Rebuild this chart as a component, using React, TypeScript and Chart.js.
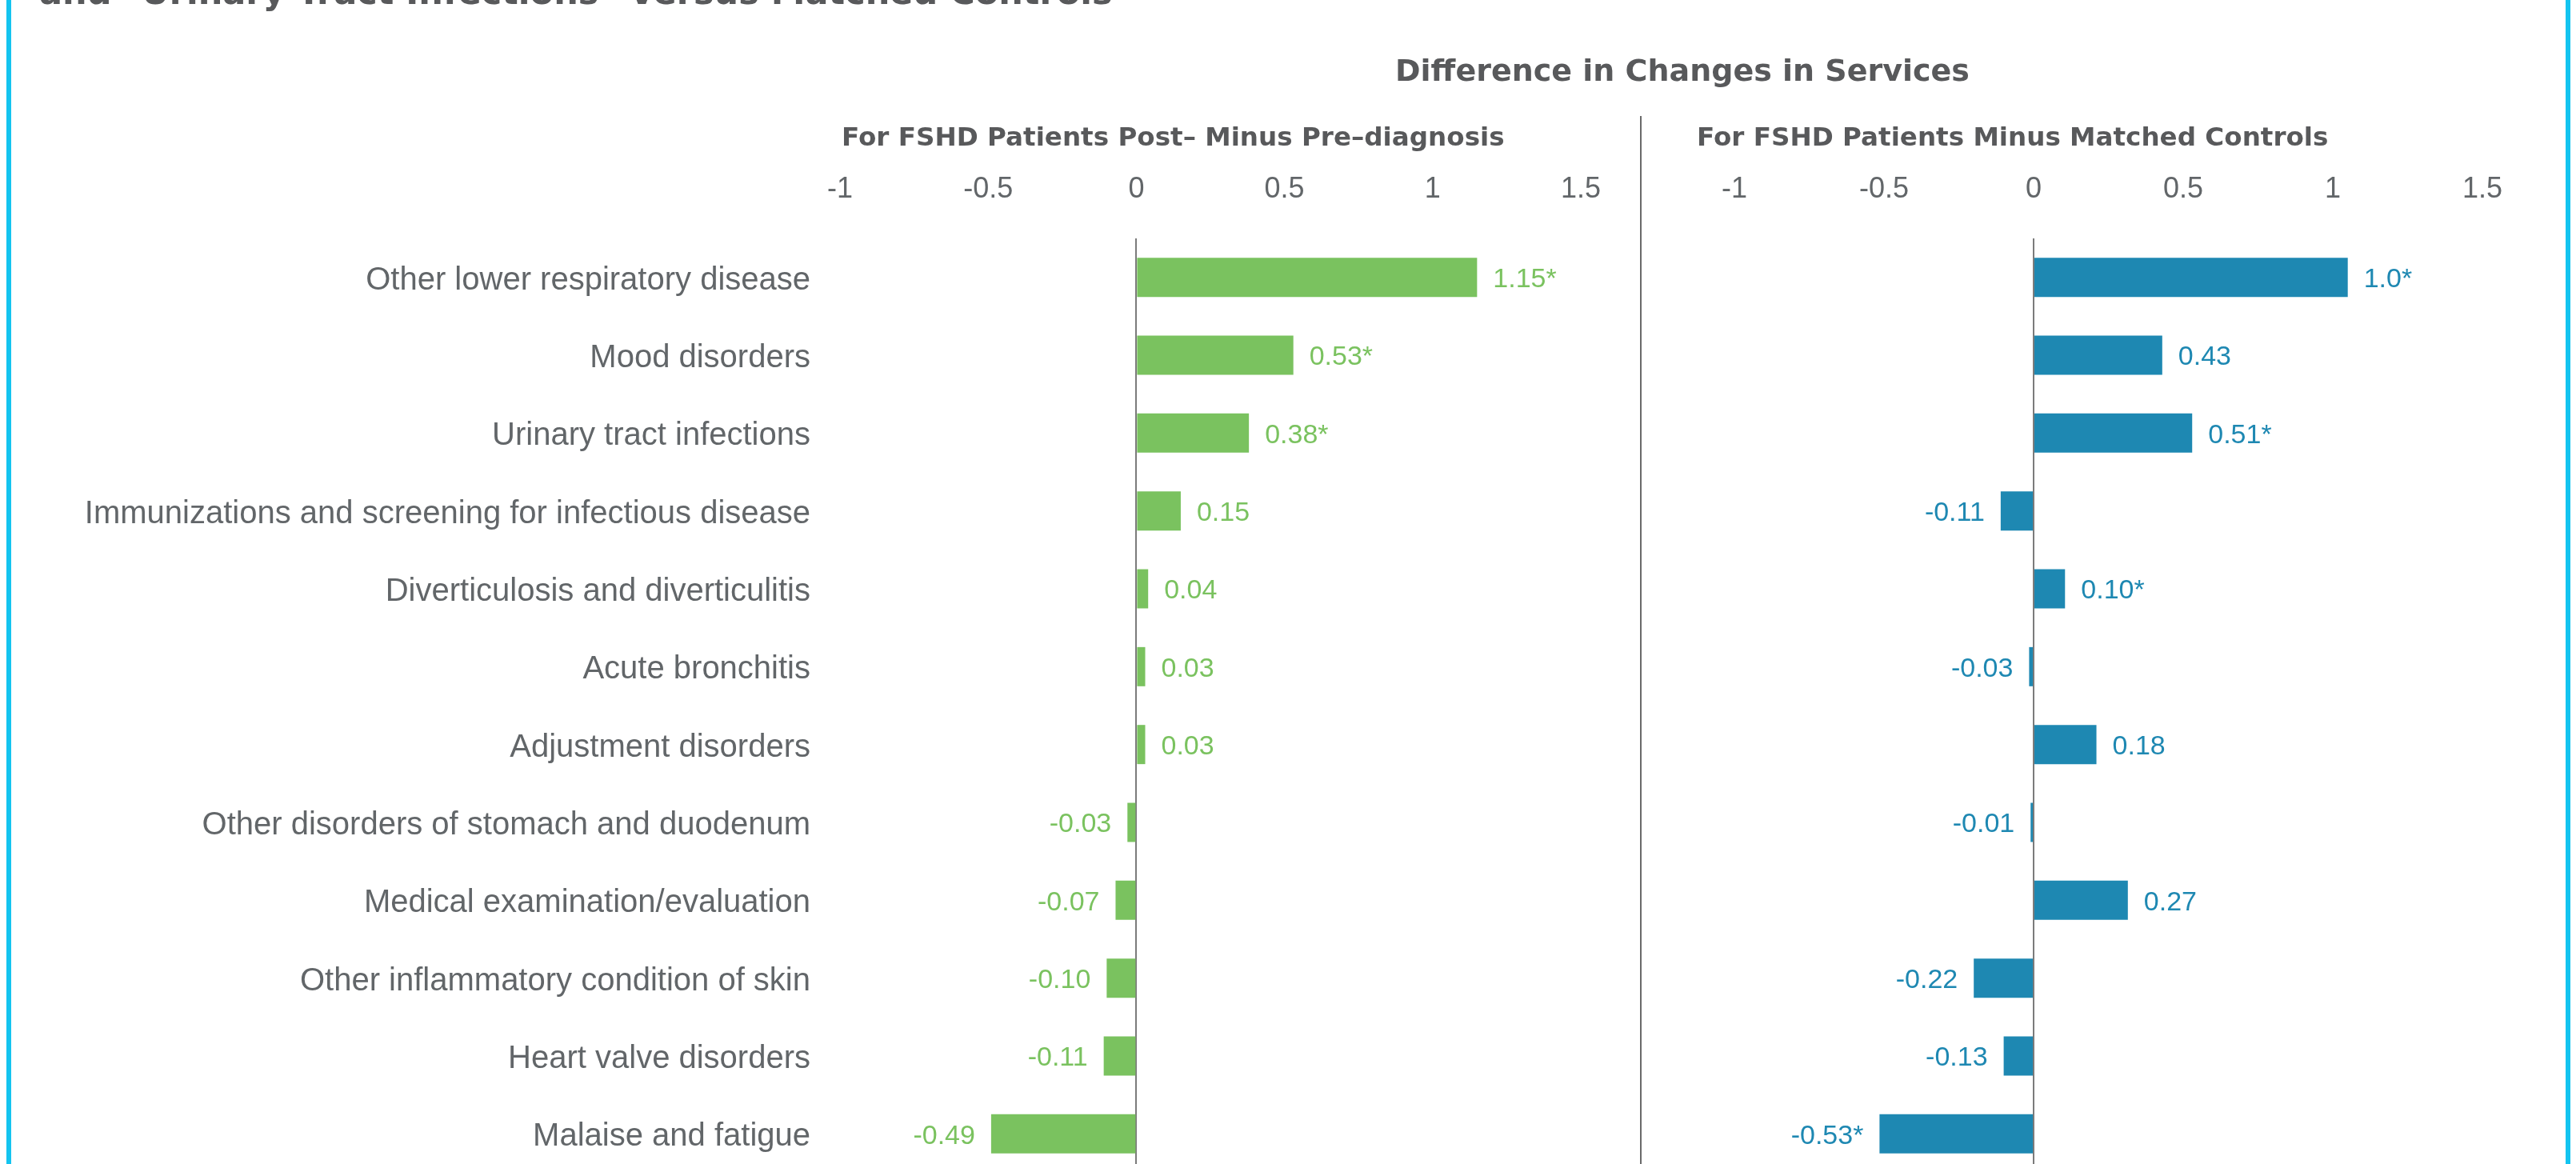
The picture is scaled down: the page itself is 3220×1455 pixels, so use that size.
import React, { useEffect, useRef } from "react";
import { Chart, registerables } from "chart.js";

Chart.register(...registerables);

const categories = [
  "Other lower respiratory disease",
  "Mood disorders",
  "Urinary tract infections",
  "Immunizations and screening for infectious disease",
  "Diverticulosis and diverticulitis",
  "Acute bronchitis",
  "Adjustment disorders",
  "Other disorders of stomach and duodenum",
  "Medical examination/evaluation",
  "Other inflammatory condition of skin",
  "Heart valve disorders",
  "Malaise and fatigue",
];

const postMinusPre = [1.15, 0.53, 0.38, 0.15, 0.04, 0.03, 0.03, -0.03, -0.07, -0.1, -0.11, -0.49];
const postMinusPreLabels = ["1.15*", "0.53*", "0.38*", "0.15", "0.04", "0.03", "0.03", "-0.03", "-0.07", "-0.10", "-0.11", "-0.49"];

const minusControls = [1.05, 0.43, 0.53, -0.11, 0.105, -0.015, 0.21, -0.01, 0.315, -0.2, -0.1, -0.515];
const minusControlsLabels = ["1.0*", "0.43", "0.51*", "-0.11", "0.10*", "-0.03", "0.18", "-0.01", "0.27", "-0.22", "-0.13", "-0.53*"];

const xMin = -1;
const xMax = 1.5;
const xStep = 0.5;

const titleText = 'and "Urinary Tract Infections" Versus Matched Controls';
const headerText = "Difference in Changes in Services";
const leftSubheader = "For FSHD Patients Post\u2013 Minus Pre\u2013diagnosis";
const rightSubheader = "For FSHD Patients Minus Matched Controls";

const GREEN = "#7AC25F";
const BLUE = "#1E88B2";
const TEXT = "#626669";
const HEAD = "#58595B";
const CYAN = "#14C4F0";
const BODY_FONT = "'Liberation Sans', Arial, sans-serif";
const HEAD_FONT = "'DejaVu Sans', sans-serif";

function valueLabelPlugin(labels: string[], color: string) {
  return {
    id: "valueLabels",
    afterDatasetsDraw(chart: any) {
      const ctx = chart.ctx;
      const meta = chart.getDatasetMeta(0);
      const data = chart.data.datasets[0].data;
      ctx.save();
      ctx.font = `34px ${BODY_FONT}`;
      ctx.fillStyle = color;
      ctx.textBaseline = "middle";
      meta.data.forEach((bar: any, i: number) => {
        if (data[i] >= 0) {
          ctx.textAlign = "left";
          ctx.fillText(labels[i], bar.x + 20, bar.y + 3);
        } else {
          ctx.textAlign = "right";
          ctx.fillText(labels[i], bar.x - 20, bar.y + 3);
        }
      });
      ctx.restore();
    },
  };
}

function makeConfig(values: number[], labels: string[], color: string, showCats: boolean, padLeft: number, padRight: number): any {
  const yScale: any = showCats
    ? {
        display: true,
        ticks: {
          color: TEXT,
          font: { family: BODY_FONT, size: 40 },
          padding: 0,
          labelOffset: 4,
          autoSkip: false,
        },
        grid: {
          display: true,
          drawOnChartArea: false,
          drawTicks: true,
          tickLength: 37,
          tickColor: "rgba(0,0,0,0)",
          color: "rgba(0,0,0,0)",
        },
        border: { display: false },
        afterFit: (s: any) => {
          s.width = 1050;
        },
      }
    : { display: false };
  return {
    type: "bar",
    data: {
      labels: categories,
      datasets: [
        {
          data: values,
          backgroundColor: color,
          borderWidth: 0,
          barPercentage: 0.503,
          categoryPercentage: 1,
        },
      ],
    },
    options: {
      indexAxis: "y",
      animation: false,
      responsive: false,
      devicePixelRatio: 1,
      layout: { padding: { left: padLeft, right: padRight, top: 0, bottom: 34 } },
      plugins: {
        legend: { display: false },
        tooltip: { enabled: false },
        title: { display: false },
      },
      scales: {
        x: {
          position: "top",
          min: xMin,
          max: xMax,
          ticks: {
            stepSize: xStep,
            color: TEXT,
            font: { family: BODY_FONT, size: 36 },
            padding: 39,
            callback: (v: any) => String(Math.round(Number(v) * 10) / 10),
          },
          grid: {
            drawTicks: false,
            color: (c: any) => (c.tick && c.tick.value === 0 ? "#7b7b7b" : "rgba(0,0,0,0)"),
            lineWidth: 2,
          },
          border: { display: false },
          afterFit: (s: any) => {
            s.height = 298;
          },
        },
        y: yScale,
      },
    },
    plugins: [valueLabelPlugin(labels, color)],
  };
}

export default function App() {
  const leftRef = useRef<HTMLCanvasElement>(null);
  const rightRef = useRef<HTMLCanvasElement>(null);

  useEffect(() => {
    document.body.style.margin = "0";
    const c1 = new Chart(leftRef.current as HTMLCanvasElement, makeConfig(postMinusPre, postMinusPreLabels, GREEN, true, 0, 62));
    const c2 = new Chart(rightRef.current as HTMLCanvasElement, makeConfig(minusControls, minusControlsLabels, BLUE, false, 108, 97));
    return () => {
      c1.destroy();
      c2.destroy();
    };
  }, []);

  const headBase: React.CSSProperties = {
    position: "absolute",
    fontFamily: HEAD_FONT,
    fontWeight: 700,
    color: HEAD,
    whiteSpace: "nowrap",
  };

  return (
    <div style={{ position: "absolute", left: 0, top: 0, width: 3220, height: 1455, overflow: "hidden", background: "#fff" }}>
      <canvas ref={leftRef} width={2040} height={1500} style={{ position: "absolute", left: 0, top: 0 }} />
      <canvas ref={rightRef} width={1140} height={1500} style={{ position: "absolute", left: 2060, top: 0 }} />
      <div style={{ ...headBase, left: 49, top: -31, fontSize: 43, lineHeight: "43px" }}>{titleText}</div>
      <div style={{ ...headBase, left: 1603, width: 1000, textAlign: "center", top: 69, fontSize: 38, lineHeight: "38px" }}>{headerText}</div>
      <div style={{ ...headBase, left: 1052, top: 155, fontSize: 32.6, lineHeight: "33px" }}>{leftSubheader}</div>
      <div style={{ ...headBase, left: 2121, top: 155, fontSize: 32.6, lineHeight: "33px" }}>{rightSubheader}</div>
      <div style={{ position: "absolute", left: 2050, top: 145, width: 2, height: 1320, background: "#6a6a6a" }} />
      <div style={{ position: "absolute", left: 8, top: 0, width: 6, height: 1455, background: CYAN }} />
      <div style={{ position: "absolute", left: 3207, top: 0, width: 6, height: 1455, background: CYAN }} />
    </div>
  );
}
